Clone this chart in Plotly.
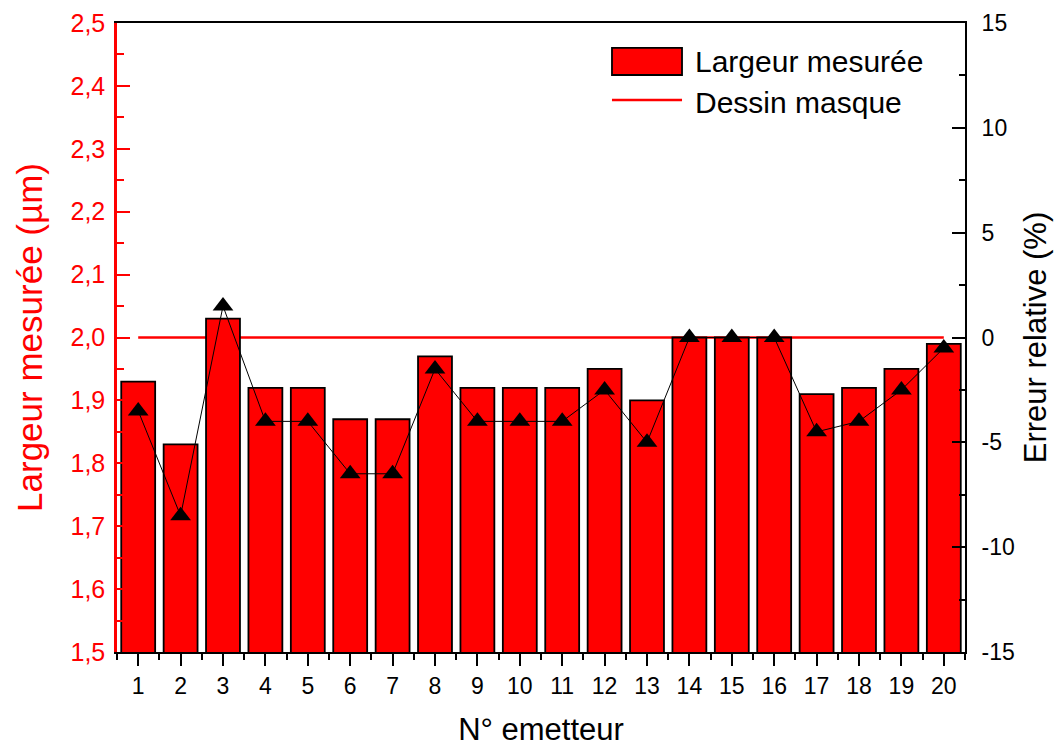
import plotly.graph_objects as go

# N° d'émetteur
emetteurs = list(range(1, 21))
# Largeur mesurée (µm)
largeur_mesuree = [1.93, 1.83, 2.03, 1.92, 1.92, 1.87, 1.87, 1.97, 1.92, 1.92,
                   1.92, 1.95, 1.90, 2.00, 2.00, 2.00, 1.91, 1.92, 1.95, 1.99]
# Largeur prévue par le dessin du masque (µm)
dessin_masque = [2.0] * 20
# Erreur relative (%)
erreur_relative = [-3.5, -8.5, 1.5, -4.0, -4.0, -6.5, -6.5, -1.5, -4.0, -4.0,
                   -4.0, -2.5, -5.0, 0.0, 0.0, 0.0, -4.5, -4.0, -2.5, -0.5]

# Graduations
left_ticks = [1.5, 1.6, 1.7, 1.8, 1.9, 2.0, 2.1, 2.2, 2.3, 2.4, 2.5]
left_labels = ["1,5", "1,6", "1,7", "1,8", "1,9", "2,0", "2,1", "2,2", "2,3", "2,4", "2,5"]
right_ticks = [-15, -10, -5, 0, 5, 10, 15]
right_labels = ["-15", "-10", "-5", "0", "5", "10", "15"]

RED = "#ff0000"
FONT = "Liberation Sans, Arial, sans-serif"

fig = go.Figure()

# Ligne du dessin de masque (sous les barres)
fig.add_trace(go.Scatter(
    x=emetteurs, y=dessin_masque, mode="lines", name="Dessin masque",
    line=dict(color=RED, width=2.5), yaxis="y", showlegend=False,
))

# Barres des largeurs mesurées
fig.add_trace(go.Bar(
    x=emetteurs, y=largeur_mesuree, name="Largeur mesurée",
    marker=dict(color=RED, line=dict(color="black", width=1.8)),
    width=0.8, yaxis="y2", showlegend=False,
))

# Erreur relative
fig.add_trace(go.Scatter(
    x=emetteurs, y=erreur_relative, mode="lines+markers", showlegend=False,
    line=dict(color="black", width=1),
    marker=dict(symbol="triangle-up", size=18, color="black"),
    yaxis="y3",
))

# Légende dessinée dans le cadre, en haut à droite
legend_shapes = [
    dict(type="rect", xref="paper", yref="paper",
         x0=0.5837, x1=0.6663, y0=0.9173, y1=0.9603,
         fillcolor=RED, line=dict(color="black", width=1.8)),
    dict(type="line", xref="paper", yref="paper",
         x0=0.5837, x1=0.6663, y0=0.8776, y1=0.8776,
         line=dict(color=RED, width=2.5)),
]
legend_texts = [
    dict(text="Largeur mesurée", xref="paper", yref="paper", x=0.6792, y=0.938,
         xanchor="left", yanchor="middle", showarrow=False,
         font=dict(size=30, color="black")),
    dict(text="Dessin masque", xref="paper", yref="paper", x=0.6792, y=0.8744,
         xanchor="left", yanchor="middle", showarrow=False,
         font=dict(size=30, color="black")),
]

fig.update_layout(
    width=1064, height=747,
    margin=dict(l=117, r=99, t=23, b=95, autoexpand=False),
    paper_bgcolor="white", plot_bgcolor="white",
    font=dict(family=FONT, size=22, color="black"),
    showlegend=False,
    shapes=legend_shapes,
    annotations=legend_texts,
    xaxis=dict(
        range=[0.5, 20.5], tickmode="array", tickvals=emetteurs,
        ticktext=[str(e) for e in emetteurs], automargin=False,
        showline=True, linecolor="black", linewidth=2, mirror=True,
        ticks="outside", ticklen=12, tickwidth=2, tickcolor="black",
        minor=dict(tickvals=[e - 0.5 for e in emetteurs] + [20.5],
                   ticks="outside", ticklen=6, tickwidth=2, tickcolor="black"),
        showgrid=False, zeroline=False,
        tickfont=dict(size=23),
        title=dict(text="N° emetteur", font=dict(size=31), standoff=27),
    ),
    yaxis=dict(
        range=[1.5, 2.5], tickmode="array", tickvals=left_ticks, ticktext=left_labels,
        automargin=False,
        showline=True, linecolor=RED, linewidth=2.5,
        ticks="inside", ticklen=13, tickwidth=2, tickcolor=RED,
        minor=dict(dtick=0.05, tick0=1.5, ticks="inside", ticklen=7,
                   tickwidth=2, tickcolor=RED),
        showgrid=False, zeroline=False,
        tickfont=dict(size=25, color=RED), ticklabelstandoff=4,
        title=dict(text="Largeur mesurée (µm)", font=dict(size=35, color=RED), standoff=18),
    ),
    yaxis2=dict(
        range=[1.5, 2.5], overlaying="y", visible=False, showgrid=False,
        zeroline=False, automargin=False,
    ),
    yaxis3=dict(
        range=[-15, 15], overlaying="y", side="right", automargin=False,
        tickmode="array", tickvals=right_ticks, ticktext=right_labels,
        showline=True, linecolor="black", linewidth=2,
        ticks="inside", ticklen=13, tickwidth=2, tickcolor="black",
        minor=dict(dtick=2.5, tick0=-15, ticks="inside", ticklen=6,
                   tickwidth=2, tickcolor="black"),
        showgrid=False, zeroline=False,
        tickfont=dict(size=23, color="black"), ticklabelstandoff=10,
        title=dict(text="Erreur relative (%)", font=dict(size=31, color="black"), standoff=10),
    ),
)

fig.write_html("out.html")
